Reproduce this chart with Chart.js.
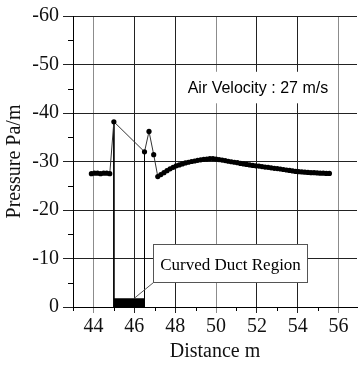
<!DOCTYPE html>
<html>
<head>
<meta charset="utf-8">
<script src="https://cdn.jsdelivr.net/npm/chart.js@4"></script>
<style>
  html, body { margin: 0; padding: 0; background: #fff; }
  #wrap { width: 361px; height: 365px; }
</style>
</head>
<body>
<div id="wrap"><canvas id="pressure-chart"></canvas></div>
<script>
// measured pressure along the duct (Pa/m), distance in m
const distance = [43.9, 44.05, 44.2, 44.35, 44.5, 44.65, 44.8,
  45.0, 46.5, 46.72, 46.95,
  47.15, 47.3, 47.45, 47.6, 47.75, 47.9, 48.05, 48.2, 48.35, 48.5, 48.65, 48.8, 48.95, 49.1, 49.25, 49.4, 49.55, 49.7, 49.85,
  50.0, 50.15, 50.3, 50.45, 50.6, 50.75, 50.9, 51.05, 51.2, 51.35, 51.5, 51.65, 51.8, 51.95, 52.1, 52.25, 52.4, 52.55, 52.7, 52.85,
  53.0, 53.15, 53.3, 53.45, 53.6, 53.75, 53.9, 54.05, 54.2, 54.35, 54.5, 54.65, 54.8, 54.95, 55.1, 55.25, 55.4, 55.55];
const pressure = [-27.5, -27.6, -27.6, -27.5, -27.6, -27.6, -27.5,
  -38.2, -32.0, -36.2, -31.4,
  -26.9, -27.3, -27.7, -28.1, -28.5, -28.8, -29.1, -29.3, -29.5, -29.7, -29.85, -30.0, -30.1, -30.25, -30.35, -30.45, -30.5, -30.6, -30.6,
  -30.5, -30.4, -30.3, -30.2, -30.05, -29.95, -29.85, -29.75, -29.6, -29.5, -29.4, -29.3, -29.2, -29.1, -29.05, -28.95, -28.85, -28.8, -28.7, -28.6,
  -28.55, -28.45, -28.35, -28.25, -28.15, -28.05, -27.95, -27.9, -27.85, -27.8, -27.75, -27.7, -27.7, -27.65, -27.6, -27.6, -27.55, -27.55];

const ductRegion = [45, 46.5];   // start / end of curved duct (m)
const ductMark = -1.8;           // thickness of the black bar

const xTicks = [44, 46, 48, 50, 52, 54, 56];
const xMinor = [43, 45, 47, 49, 51, 53, 55];
const yTicks = [-60, -50, -40, -30, -20, -10, 0];
const yMinor = [-55, -45, -35, -25, -15, -5];

const velocityLabel = 'Air Velocity : 27 m/s';
const ductLabel = 'Curved Duct Region';

const points = distance.map((d, i) => ({x: d, y: pressure[i]}));
const dropLine = d => [{x: d, y: pressure[distance.indexOf(d)]}, {x: d, y: 0}];

// minor ticks + text boxes
const extras = {
  id: 'extras',
  afterDatasetsDraw(chart) {
    const {ctx, scales: {x, y}} = chart;
    ctx.save();

    // velocity note, white box hides the grid behind it
    let l = x.getPixelForValue(48.3), r = x.getPixelForValue(55.8);
    let t = y.getPixelForValue(-48.5), b = y.getPixelForValue(-42);
    ctx.fillStyle = '#fff';
    ctx.fillRect(l, t, r - l, b - t);
    ctx.fillStyle = '#000';
    ctx.font = '16px "Liberation Sans"';
    ctx.textAlign = 'center';
    ctx.textBaseline = 'middle';
    ctx.fillText(velocityLabel, x.getPixelForValue(52.05), y.getPixelForValue(-45.1));

    // callout for the duct
    l = Math.round(x.getPixelForValue(46.9)) + 0.5;
    r = Math.round(x.getPixelForValue(54.45)) + 0.5;
    t = Math.round(y.getPixelForValue(-12.9)) + 0.5;
    b = Math.round(y.getPixelForValue(-5.15)) + 0.5;
    ctx.strokeStyle = '#555';
    ctx.lineWidth = 1;
    ctx.beginPath();
    ctx.moveTo(x.getPixelForValue((ductRegion[0] + ductRegion[1]) / 2 + 0.25), y.getPixelForValue(ductMark));
    ctx.lineTo(l, b);
    ctx.stroke();
    ctx.fillStyle = '#fff';
    ctx.fillRect(l, t, r - l, b - t);
    ctx.strokeRect(l, t, r - l, b - t);
    ctx.fillStyle = '#000';
    ctx.font = '17px "Liberation Serif"';
    ctx.fillText(ductLabel, (l + r) / 2, y.getPixelForValue(-8.6));

    // minor ticks
    ctx.strokeStyle = '#000';
    ctx.beginPath();
    xMinor.forEach(v => {
      const px = Math.round(x.getPixelForValue(v)) + 0.5;
      ctx.moveTo(px, x.top);
      ctx.lineTo(px, x.top + 4);
    });
    yMinor.forEach(v => {
      const py = Math.round(y.getPixelForValue(v)) + 0.5;
      ctx.moveTo(y.right - 5, py);
      ctx.lineTo(y.right, py);
    });
    ctx.stroke();
    ctx.restore();
  }
};

const serif = 'Liberation Serif';

new Chart(document.getElementById('pressure-chart'), {
  type: 'line',
  data: {
    datasets: [
      {
        data: points,
        borderColor: '#333',
        borderWidth: 1,
        pointRadius: 2.6,
        pointBackgroundColor: '#000',
        pointBorderWidth: 0,
        tension: 0
      },
      {
        data: dropLine(ductRegion[0]),
        borderColor: '#000',
        borderWidth: 1,
        pointRadius: 0
      },
      {
        data: dropLine(ductRegion[1]),
        borderColor: '#000',
        borderWidth: 1,
        pointRadius: 0
      },
      {
        data: ductRegion.map(d => ({x: d, y: ductMark})),
        borderWidth: 0,
        pointRadius: 0,
        backgroundColor: '#000',
        fill: 'origin'
      }
    ]
  },
  options: {
    responsive: true,
    maintainAspectRatio: false,
    animation: false,
    layout: { padding: { top: 15, right: 0, left: 0, bottom: 0 } },
    plugins: {
      legend: { display: false },
      tooltip: { enabled: false }
    },
    scales: {
      x: {
        type: 'linear',
        min: 43,
        max: 56.9,
        afterBuildTicks: s => { s.ticks = xTicks.map(v => ({value: v})); },
        afterFit: s => { s.height = 58; },
        grid: {
          color: c => [44, 50, 56].includes(c.tick && c.tick.value) ? '#8c8c8c' : '#222',
          lineWidth: 1,
          tickLength: 6
        },
        border: { display: true, color: '#000' },
        ticks: {
          font: { family: serif, size: 20 },
          color: '#111',
          padding: 2,
          maxRotation: 0,
          autoSkip: false
        },
        title: {
          display: true,
          text: 'Distance m',
          font: { family: serif, size: 20 },
          color: '#111',
          padding: { top: 0, bottom: 1 }
        }
      },
      y: {
        type: 'linear',
        reverse: true,
        min: -60,
        max: 0,
        afterBuildTicks: s => { s.ticks = yTicks.map(v => ({value: v})); },
        afterFit: s => { s.width = 73; },
        grid: { color: '#222', lineWidth: 1, tickLength: 10 },
        border: { display: true, color: '#000' },
        ticks: {
          font: { family: serif, size: 20 },
          color: '#111',
          padding: 4
        },
        title: {
          display: true,
          text: 'Pressure Pa/m',
          font: { family: serif, size: 20 },
          color: '#111',
          padding: { top: 3, bottom: 0 }
        }
      }
    }
  },
  plugins: [extras]
});
</script>
</body>
</html>
